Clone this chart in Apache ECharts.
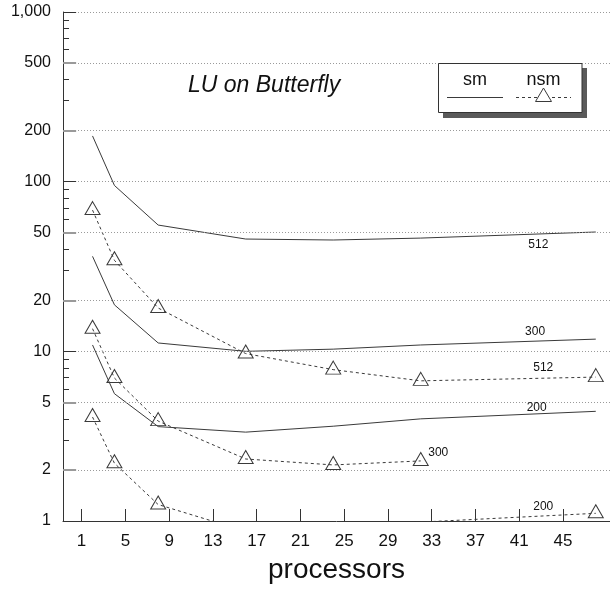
<!DOCTYPE html>
<html>
<head>
<meta charset="utf-8">
<script src="https://cdn.jsdelivr.net/npm/echarts@6/dist/echarts.min.js"></script>
<style>
html,body{margin:0;padding:0;background:#fff;}
#chart{width:610px;height:589px;}
</style>
</head>
<body>
<div id="chart"></div>
<script>
// ---- data ----
const processors = [2, 4, 8, 16, 24, 32, 48];
const sm512  = [186, 95, 55.5, 45.9, 45.3, 46.5, 50.5];
const sm300  = [36.3, 18.8, 11.2, 10.0, 10.3, 10.9, 11.8];
const sm200  = [10.9, 5.63, 3.6, 3.34, 3.62, 4.0, 4.43];
const nsm512 = [68, 34.4, 18.0, 9.7, 7.8, 6.7, 7.05];
const nsm300 = [13.6, 6.96, 3.88, 2.32, 2.14, 2.26];
const nsm200 = [4.1, 2.19, 1.25, 0.87, 0.92, 0.985, 1.11];
const sizeLabels = ['512', '300', '200'];
const xTicks = [1, 5, 9, 13, 17, 21, 25, 29, 33, 37, 41, 45];
const yMajor = [1, 2, 5, 10, 20, 50, 100, 200, 500, 1000];
const yMajorText = ['1', '2', '5', '10', '20', '50', '100', '200', '500', '1,000'];
const yMinor = [3, 4, 6, 7, 8, 9, 30, 40, 60, 70, 80, 90, 300, 400, 600, 700, 800, 900];
const titleText = 'LU on Butterfly';
const xName = 'processors';
const legendNames = ['sm', 'nsm'];

// label anchor points [processors, value] for series size labels
const labelAt = {
  sm512: [42.75, 42.5], sm300: [42.45, 13.1], sm200: [42.6, 4.65],
  nsm512: [43.2, 7.99], nsm300: [33.6, 2.54], nsm200: [43.2, 1.21]
};

const X_MIN = -0.7, X_MAX = 49.3;
const FONT = '"Liberation Sans", Arial, Helvetica, sans-serif';
const LINE = '#3a3a3a';

function pairs(ys) { return ys.map((y, i) => [processors[i], y]); }

function sizeMark(key, text) {
  return {
    silent: true, animation: false,
    symbol: 'rect', symbolSize: 1,
    itemStyle: { color: 'rgba(0,0,0,0)' },
    label: { show: true, position: 'inside', formatter: text, color: '#111', fontSize: 12, fontFamily: FONT },
    data: [{ coord: labelAt[key] }]
  };
}

// axis decorations on the log axis via markLine
const gridItems = yMajor.filter(v => v !== 1).map(v => ({
  yAxis: v,
  lineStyle: { color: '#9a9a9a', width: 1, type: [1, 2] },
  label: { show: false }
}));
const majorTickItems = yMajor.map((v, i) => {
  const decade = [1, 10, 100, 1000].indexOf(v) >= 0;
  return [
    { coord: [X_MIN, v], lineStyle: { color: decade ? '#333' : '#9a9a9a', width: decade ? 1 : 2, type: 'solid' },
      label: { show: true, position: 'start', formatter: yMajorText[i], distance: 12, color: '#111', fontSize: 16, fontFamily: FONT } },
    { coord: [X_MIN + 1.2, v] }
  ];
});
const minorTickItems = yMinor.map(v => [
  { coord: [X_MIN, v], lineStyle: { color: '#333', width: 1, type: 'solid' }, label: { show: false } },
  { coord: [X_MIN + 0.55, v] }
]);

function solid(name, ys, key, text) {
  return {
    name, type: 'line', data: pairs(ys), showSymbol: false, clip: true, animation: false,
    lineStyle: { color: LINE, width: 1 }, z: 3,
    markPoint: sizeMark(key, text)
  };
}
function dashed(name, ys, key, text) {
  return {
    name, type: 'line', data: pairs(ys), clip: true, animation: false,
    symbol: 'triangle', symbolSize: [15, 13], symbolOffset: [0, -2], showAllSymbol: true,
    itemStyle: { color: 'rgba(0,0,0,0)', borderColor: LINE, borderWidth: 1 },
    lineStyle: { color: LINE, width: 1, type: [3, 3] }, z: 3,
    markPoint: sizeMark(key, text)
  };
}

const series = [
  solid('sm 512', sm512, 'sm512', sizeLabels[0]),
  solid('sm 300', sm300, 'sm300', sizeLabels[1]),
  solid('sm 200', sm200, 'sm200', sizeLabels[2]),
  dashed('nsm 512', nsm512, 'nsm512', sizeLabels[0]),
  dashed('nsm 300', nsm300, 'nsm300', sizeLabels[1]),
  dashed('nsm 200', nsm200, 'nsm200', sizeLabels[2]),
  {
    name: 'axis', type: 'line', data: [], animation: false, silent: true, z: 1,
    markLine: {
      silent: true, animation: false, symbol: ['none', 'none'],
      label: { show: false },
      data: gridItems.concat(majorTickItems, minorTickItems)
    }
  }
];

const chart = echarts.init(document.getElementById('chart'), null, { renderer: 'canvas' });
chart.setOption({
  backgroundColor: '#fff',
  animation: false,
  title: {
    text: titleText, left: 188, top: 74, padding: 0,
    textStyle: { fontStyle: 'italic', fontWeight: 'normal', fontSize: 23, fontFamily: FONT, color: '#111' }
  },
  grid: { left: 63, right: 0, top: 12, bottom: 67, containLabel: false },
  xAxis: {
    type: 'value', min: X_MIN, max: X_MAX,
    axisLine: { show: true, onZero: false, lineStyle: { color: '#333', width: 1 } },
    axisTick: { show: true, inside: true, length: 12, customValues: xTicks, lineStyle: { color: '#333' } },
    axisLabel: { show: true, customValues: xTicks, margin: 12, fontSize: 17, color: '#111', fontFamily: FONT },
    splitLine: { show: false },
    name: xName, nameLocation: 'middle', nameGap: 35,
    nameTextStyle: { fontSize: 28, color: '#111', fontFamily: FONT }
  },
  yAxis: {
    type: 'log', logBase: 10, min: 1, max: 1000,
    axisLine: { show: true, onZero: false, lineStyle: { color: '#333', width: 1 } },
    axisTick: { show: false }, axisLabel: { show: false },
    splitLine: { show: false }, minorTick: { show: false }
  },
  series: series,
  graphic: [
    { type: 'rect', shape: { x: 443, y: 68, width: 144, height: 50 }, style: { fill: '#5a5a5a' }, z: 10 },
    { type: 'rect', shape: { x: 438.5, y: 63.5, width: 143.5, height: 49 }, style: { fill: '#fff', stroke: '#333', lineWidth: 1 }, z: 11 },
    { type: 'text', x: 475, y: 80, style: { text: legendNames[0], font: '18px ' + FONT, fill: '#111', align: 'center', verticalAlign: 'middle' }, z: 12 },
    { type: 'text', x: 543.5, y: 80, style: { text: legendNames[1], font: '18px ' + FONT, fill: '#111', align: 'center', verticalAlign: 'middle' }, z: 12 },
    { type: 'line', shape: { x1: 447, y1: 97.5, x2: 503, y2: 97.5 }, style: { stroke: LINE, lineWidth: 1 }, z: 12 },
    { type: 'line', shape: { x1: 516, y1: 97.5, x2: 571, y2: 97.5 }, style: { stroke: LINE, lineWidth: 1, lineDash: [3, 3] }, z: 12 },
    { type: 'polygon', shape: { points: [[543.5, 88], [535.5, 101.5], [551.5, 101.5]] }, style: { fill: '#fff', stroke: LINE, lineWidth: 1 }, z: 13 }
  ]
});
</script>
</body>
</html>
